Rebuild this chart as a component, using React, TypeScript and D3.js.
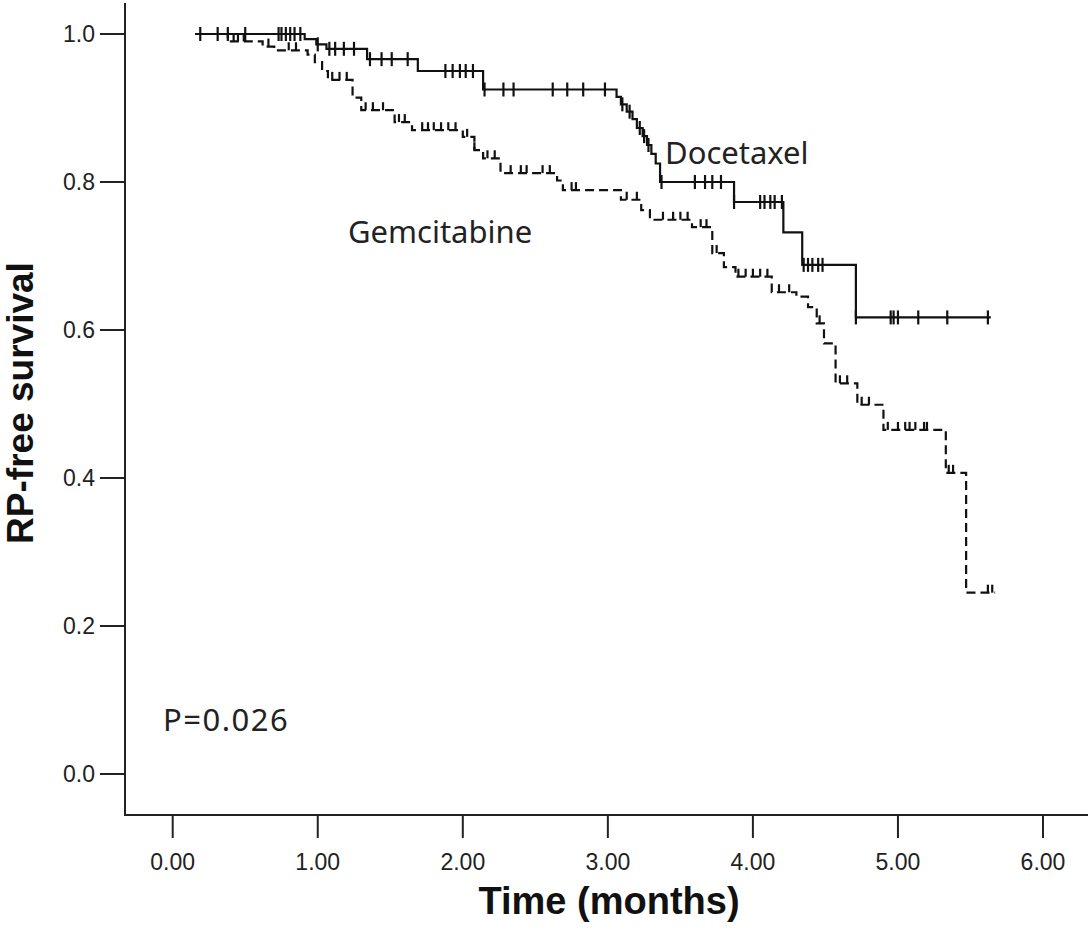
import React, { useEffect, useRef } from 'react';
import * as d3 from 'd3';

// Kaplan-Meier steps: [time (months), survival after drop]
const docetaxelSteps: [number, number][] = [
  [0.155, 1.0], [0.91, 0.993], [0.99, 0.986], [1.06, 0.98], [1.34, 0.966], [1.69, 0.95],
  [2.14, 0.925], [3.06, 0.915], [3.09, 0.905], [3.13, 0.895], [3.17, 0.885], [3.2, 0.873],
  [3.24, 0.862], [3.27, 0.85], [3.3, 0.838], [3.33, 0.825], [3.36, 0.8], [3.87, 0.773],
  [4.21, 0.732], [4.34, 0.688], [4.71, 0.617],
];
const docetaxelEnd = 5.64;
const docetaxelCensor = [
  0.19, 0.31, 0.38, 0.5, 0.73, 0.75, 0.78, 0.81, 0.84, 0.88, 1.0, 1.08, 1.12, 1.18, 1.25,
  1.36, 1.44, 1.51, 1.62, 1.88, 1.93, 1.98, 2.02, 2.07, 2.15, 2.28, 2.35, 2.62, 2.72, 2.83,
  2.98, 3.1, 3.15, 3.22, 3.25, 3.28, 3.37, 3.6, 3.67, 3.72, 3.78, 3.87, 4.05, 4.08, 4.12,
  4.15, 4.2, 4.35, 4.38, 4.41, 4.45, 4.48, 4.71, 4.95, 4.97, 5.0, 5.14, 5.34, 5.62,
];

const gemcitabineSteps: [number, number][] = [
  [0.155, 1.0], [0.38, 0.99], [0.62, 0.983], [0.7, 0.978], [0.93, 0.972], [0.98, 0.962],
  [1.03, 0.95], [1.07, 0.938], [1.24, 0.914], [1.3, 0.897], [1.53, 0.881], [1.65, 0.87],
  [2.0, 0.861], [2.08, 0.843], [2.14, 0.832], [2.26, 0.812], [2.65, 0.802], [2.69, 0.789],
  [3.09, 0.776], [3.23, 0.762], [3.29, 0.749], [3.58, 0.739], [3.72, 0.704], [3.8, 0.685],
  [3.88, 0.672], [4.13, 0.651], [4.3, 0.645], [4.38, 0.631], [4.44, 0.609], [4.49, 0.582],
  [4.57, 0.528], [4.72, 0.499], [4.9, 0.465], [5.33, 0.407], [5.47, 0.245],
];
const gemcitabineEnd = 5.67;
const gemcitabineCensor = [
  0.42, 0.45, 0.49, 0.66, 0.8, 0.85, 1.1, 1.15, 1.2, 1.33, 1.38, 1.45, 1.56, 1.6, 1.72,
  1.76, 1.8, 1.85, 1.9, 1.95, 2.03, 2.08, 2.17, 2.22, 2.33, 2.4, 2.44, 2.55, 2.6, 2.75,
  2.78, 3.13, 3.2, 3.38, 3.45, 3.5, 3.55, 3.64, 3.68, 3.75, 3.9, 3.95, 4.0, 4.05, 4.1,
  4.18, 4.25, 4.46, 4.6, 4.65, 4.75, 4.8, 4.93, 5.0, 5.05, 5.08, 5.12, 5.18, 5.2, 5.35,
  5.38, 5.62, 5.65,
];

const xTicks = [0, 1, 2, 3, 4, 5, 6];
const yTicks = [0, 0.2, 0.4, 0.6, 0.8, 1.0];

const survivalAt = (steps: [number, number][], t: number) => {
  let s = steps[0][1];
  for (const [st, sv] of steps) if (st <= t + 1e-9) s = sv;
  return s;
};

const App: React.FC = () => {
  const svgRef = useRef<SVGSVGElement>(null);

  useEffect(() => {
    if (!svgRef.current) return;
    const svg = d3.select(svgRef.current);
    svg.selectAll('*').remove();

    const x = d3.scaleLinear().domain([0, 6]).range([172.7, 1043]);
    const y = d3.scaleLinear().domain([0, 1]).range([774, 34]);
    const font = 'Arial, "Liberation Sans", sans-serif';

    // axes frame
    svg.append('line').attr('x1', 125).attr('x2', 125).attr('y1', 3).attr('y2', 816)
      .attr('stroke', '#222').attr('stroke-width', 2);
    svg.append('line').attr('x1', 124).attr('x2', 1088).attr('y1', 815).attr('y2', 815)
      .attr('stroke', '#222').attr('stroke-width', 2);

    const yg = svg.append('g');
    yg.selectAll('line').data(yTicks).join('line')
      .attr('x1', 100).attr('x2', 125).attr('y1', d => y(d)).attr('y2', d => y(d))
      .attr('stroke', '#222').attr('stroke-width', 2);
    yg.selectAll('text').data(yTicks).join('text')
      .attr('x', 95).attr('y', d => y(d)).attr('dy', '0.35em')
      .attr('text-anchor', 'end').style('font', `23px ${font}`).attr('fill', '#222')
      .text(d => d.toFixed(1));

    const xg = svg.append('g');
    xg.selectAll('line').data(xTicks).join('line')
      .attr('x1', d => x(d)).attr('x2', d => x(d)).attr('y1', 815).attr('y2', 838)
      .attr('stroke', '#222').attr('stroke-width', 2);
    xg.selectAll('text').data(xTicks).join('text')
      .attr('x', d => x(d)).attr('y', 862).attr('dy', '0.35em')
      .attr('text-anchor', 'middle').style('font', `23px ${font}`).attr('fill', '#222')
      .text(d => d.toFixed(2));

    svg.append('text').attr('x', 609).attr('y', 901).attr('dy', '0.35em')
      .attr('text-anchor', 'middle').style('font', `bold 38px ${font}`).attr('fill', '#111')
      .text('Time (months)');
    svg.append('text').attr('transform', 'translate(20,403) rotate(-90)').attr('dy', '0.35em')
      .attr('text-anchor', 'middle').style('font', `bold 37px ${font}`).attr('fill', '#111')
      .text('RP-free survival');

    const line = d3.line<[number, number]>()
      .x(d => x(d[0])).y(d => y(d[1])).curve(d3.curveStepAfter);

    const drawCurve = (steps: [number, number][], end: number, censor: number[], dashed: boolean) => {
      const pts: [number, number][] = [...steps, [end, steps[steps.length - 1][1]]];
      svg.append('path').datum(pts).attr('d', line)
        .attr('fill', 'none').attr('stroke', '#111').attr('stroke-width', 2.2)
        .attr('stroke-dasharray', dashed ? '9,5' : null);
      svg.append('g').selectAll('line').data(censor).join('line')
        .attr('x1', d => x(d)).attr('x2', d => x(d))
        .attr('y1', d => y(survivalAt(steps, d)) - (dashed ? 8 : 7))
        .attr('y2', d => y(survivalAt(steps, d)) + (dashed ? 0 : 7))
        .attr('stroke', '#111').attr('stroke-width', 2.2);
    };

    drawCurve(gemcitabineSteps, gemcitabineEnd, gemcitabineCensor, true);
    drawCurve(docetaxelSteps, docetaxelEnd, docetaxelCensor, false);

    const lab = '"Noto Sans", "Open Sans", sans-serif';
    svg.append('text').attr('x', 665).attr('y', 153).attr('dy', '0.35em')
      .style('font', `31px ${lab}`).attr('fill', '#222').text('Docetaxel');
    svg.append('text').attr('x', 348).attr('y', 232).attr('dy', '0.35em')
      .style('font', `31px ${lab}`).attr('fill', '#222').text('Gemcitabine');
    svg.append('text').attr('x', 163).attr('y', 720).attr('dy', '0.35em')
      .style('font', `31px ${lab}`).attr('letter-spacing', 1.5).attr('fill', '#222').text('P=0.026');
  }, []);

  return (
    <svg ref={svgRef} width={1091} height={941}
      style={{ position: 'absolute', left: 0, top: 0, background: '#fff', display: 'block' }} />
  );
};

export default App;
